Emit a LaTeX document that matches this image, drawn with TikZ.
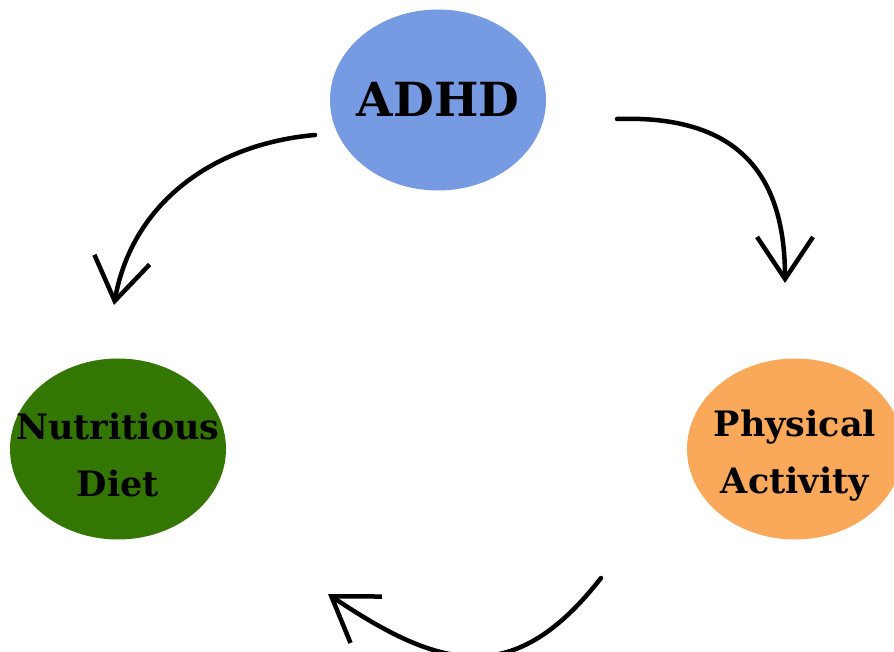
\documentclass[tikz,border=0pt]{standalone}
\usepackage{fontspec}
\setmainfont{DejaVu Serif}
\usetikzlibrary{arrows.meta,positioning,shapes.geometric}

\definecolor{adhdblue}{RGB}{118,155,227}
\definecolor{dietgreen}{RGB}{52,118,2}
\definecolor{activityorange}{RGB}{250,168,90}

\begin{document}
\begin{tikzpicture}[x=1pt, y=1pt, on grid,
    bubble/.style={ellipse, minimum width=216pt, minimum height=181pt,
        inner xsep=-40pt, inner ysep=-10pt, text height=96pt,
        align=center, font=\fontsize{35}{57}\selectfont\bfseries},
    flow/.style={line width=4.5pt, line cap=round, line join=round,
        -{Straight Barb[length=42pt, width=56pt]}}]
    \useasboundingbox (0,0) rectangle (894,651);

    % Nodes {adhd, diet, activity}
    \node [bubble, fill=adhdblue, text height=34pt, font=\fontsize{47}{50}\selectfont\bfseries]
                                  (adhd)     at (438,551)                   {ADHD};
    \node [bubble, fill=dietgreen]      (diet)     [below left=349pt and 320pt of adhd] {Nutritious\\Diet};
    \node [bubble, fill=activityorange] (activity) [right=677pt of diet]    {Physical\\Activity};

    % Free ends of the arrows
    \coordinate [below left=35pt and 123pt of adhd]      (s1);
    \coordinate [above left=144pt and 4pt of diet]       (e1);
    \coordinate [below right=19pt and 179pt of adhd]     (s2);
    \coordinate [above left=166pt and 10pt of activity]  (e2);
    \coordinate [below left=129pt and 194pt of activity] (s3);
    \coordinate [below right=145pt and 210pt of diet]    (e3);

    % Paths
    \draw [flow] (s1) to [out=185, in=80]                  (e1);
    \draw [flow] (s2) to [out=2, in=90, looseness=1.25]    (e2);
    \draw [flow] (s3) to [out=232, in=-34, looseness=1.3]  (e3);

\end{tikzpicture}
\end{document}
